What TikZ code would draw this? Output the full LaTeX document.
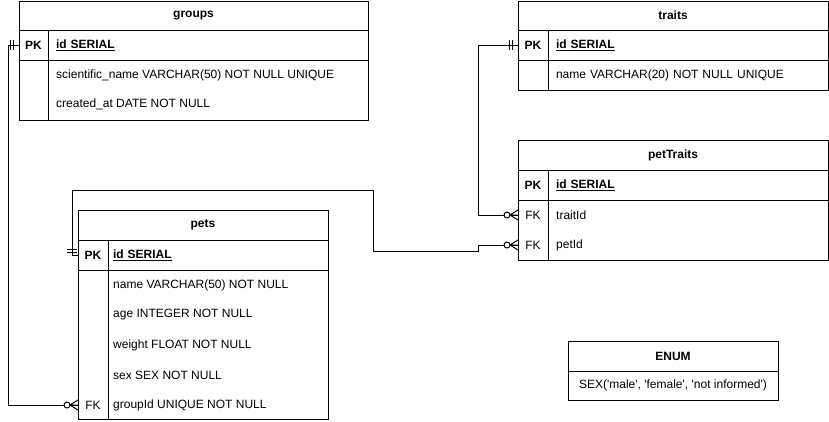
\documentclass[tikz,border=0pt]{standalone}
\usepackage{fontspec}
\setmainfont{Liberation Sans}[Ligatures=TeXOff]
\usetikzlibrary{positioning}

\begin{document}
\fontsize{12}{14}\selectfont
\begin{tikzpicture}[x=1pt,y=-1pt,
		cell/.style={draw,line width=1pt,anchor=north west,inner sep=0pt,outer sep=0pt,minimum height=30pt},
		head/.style={cell,font=\bfseries},
		val/.style={cell,align=left,inner xsep=8pt},
		fld/.style={anchor=west,inner sep=0pt},
		rel/.style={line width=1pt},
		mandone/.pic={\draw[rel] (-6pt,-5pt) -- (-6pt,5pt) (-9pt,-5pt) -- (-9pt,5pt);},
		zeromany/.pic={\draw[rel] (0pt,-5pt) -- (-8pt,0pt) -- (0pt,5pt) (-8pt,0pt) -- (0pt,0pt);
			\draw[rel,fill=white] (-11pt,0pt) circle (3pt);}]
	\useasboundingbox (0,0) rectangle (829,421);

	\node[head,minimum width=349pt,minimum height=29pt] (groups) at (19,1) {groups};
	\node[head,minimum width=29pt] (g-pk) at (19,30) {PK};
	\node[val,text width=304pt,font=\bfseries] (g-id) at (48,30) {\underline{id SERIAL}};
	\node[cell,minimum width=29pt,minimum height=60pt] (g-key) at (19,60) {};
	\node[cell,minimum width=320pt,minimum height=60pt] (g-body) at (48,60) {};
	\node[fld] (g-name) at (56,75) {scientific\_name VARCHAR(50) NOT NULL UNIQUE};
	\node[fld] (g-date) at (56,104) {created\_at DATE NOT NULL};

	\node[head,minimum width=250pt] (pets) at (78,210) {pets};
	\node[head,minimum width=30pt] (p-pk) at (78,240) {PK};
	\node[val,inner xsep=5pt,text width=210pt,font=\bfseries] (p-id) at (108,240) {\underline{id SERIAL}};
	\node[cell,minimum width=30pt,minimum height=149pt] (p-key) at (78,270) {};
	\node[cell,minimum width=220pt,minimum height=149pt] (p-body) at (108,270) {};
	\node[fld] (p-name) at (113,285) {name VARCHAR(50) NOT NULL};
	\node[fld] (p-age) at (113,315) {age INTEGER NOT NULL};
	\node[fld] (p-weight) at (113,345) {weight FLOAT NOT NULL};
	\node[fld] (p-sex) at (113,375) {sex SEX NOT NULL};
	\node[fld] (p-group) at (113,405) {groupId UNIQUE NOT NULL};
	\node (p-fk) at (93,405) {FK};

	\node[head,minimum width=310pt,minimum height=29pt] (traits) at (518,1) {traits};
	\node[head,minimum width=30pt] (t-pk) at (518,30) {PK};
	\node[val,text width=264pt,font=\bfseries] (t-id) at (548,30) {\underline{id SERIAL}};
	\node[cell,minimum width=30pt] (t-key) at (518,60) {};
	\node[val,text width=264pt] (t-name) at (548,60) {name VARCHAR(20) NOT NULL UNIQUE};

	\node[head,minimum width=310pt] (pettraits) at (518,140) {petTraits};
	\node[head,minimum width=30pt] (pt-pk) at (518,170) {PK};
	\node[val,text width=264pt,font=\bfseries] (pt-id) at (548,170) {\underline{id SERIAL}};
	\node[cell,minimum width=30pt,minimum height=60pt] (pt-key) at (518,200) {};
	\node[cell,minimum width=280pt,minimum height=60pt] (pt-body) at (548,200) {};
	\node[fld] (pt-trait) at (556,215) {traitId};
	\node[fld] (pt-pet) at (556,245) {petId};
	\node (pt-fk1) at (533,215) {FK};
	\node (pt-fk2) at (533,245) {FK};

	\node[head,minimum width=210pt] (enum) at (568,341) {ENUM};
	\node[cell,minimum width=210pt,minimum height=29pt] (e-sex) at (568,371) {SEX('male', 'female', 'not informed')};

	\draw[rel] (g-pk.west) -- ++(-11,0) |- (p-fk -| pets.west);
	\draw[rel] (t-pk.west) -- ++(-40,0) |- (pt-fk1 -| pettraits.west);
	\draw[rel] (p-pk.west) -- ++(-6,0) -- ++(0,-65) -- ++(301,0) -- ++(0,61) -- ++(105,0) |- (pt-fk2 -| pettraits.west);

	\pic at (g-pk.west) {mandone};
	\pic at (t-pk.west) {mandone};
	\pic[rotate=-90] at ([shift={(-6,3)}]p-pk.west) {mandone};
	\pic at (p-fk -| pets.west) {zeromany};
	\pic at (pt-fk1 -| pettraits.west) {zeromany};
	\pic at (pt-fk2 -| pettraits.west) {zeromany};
\end{tikzpicture}
\end{document}
